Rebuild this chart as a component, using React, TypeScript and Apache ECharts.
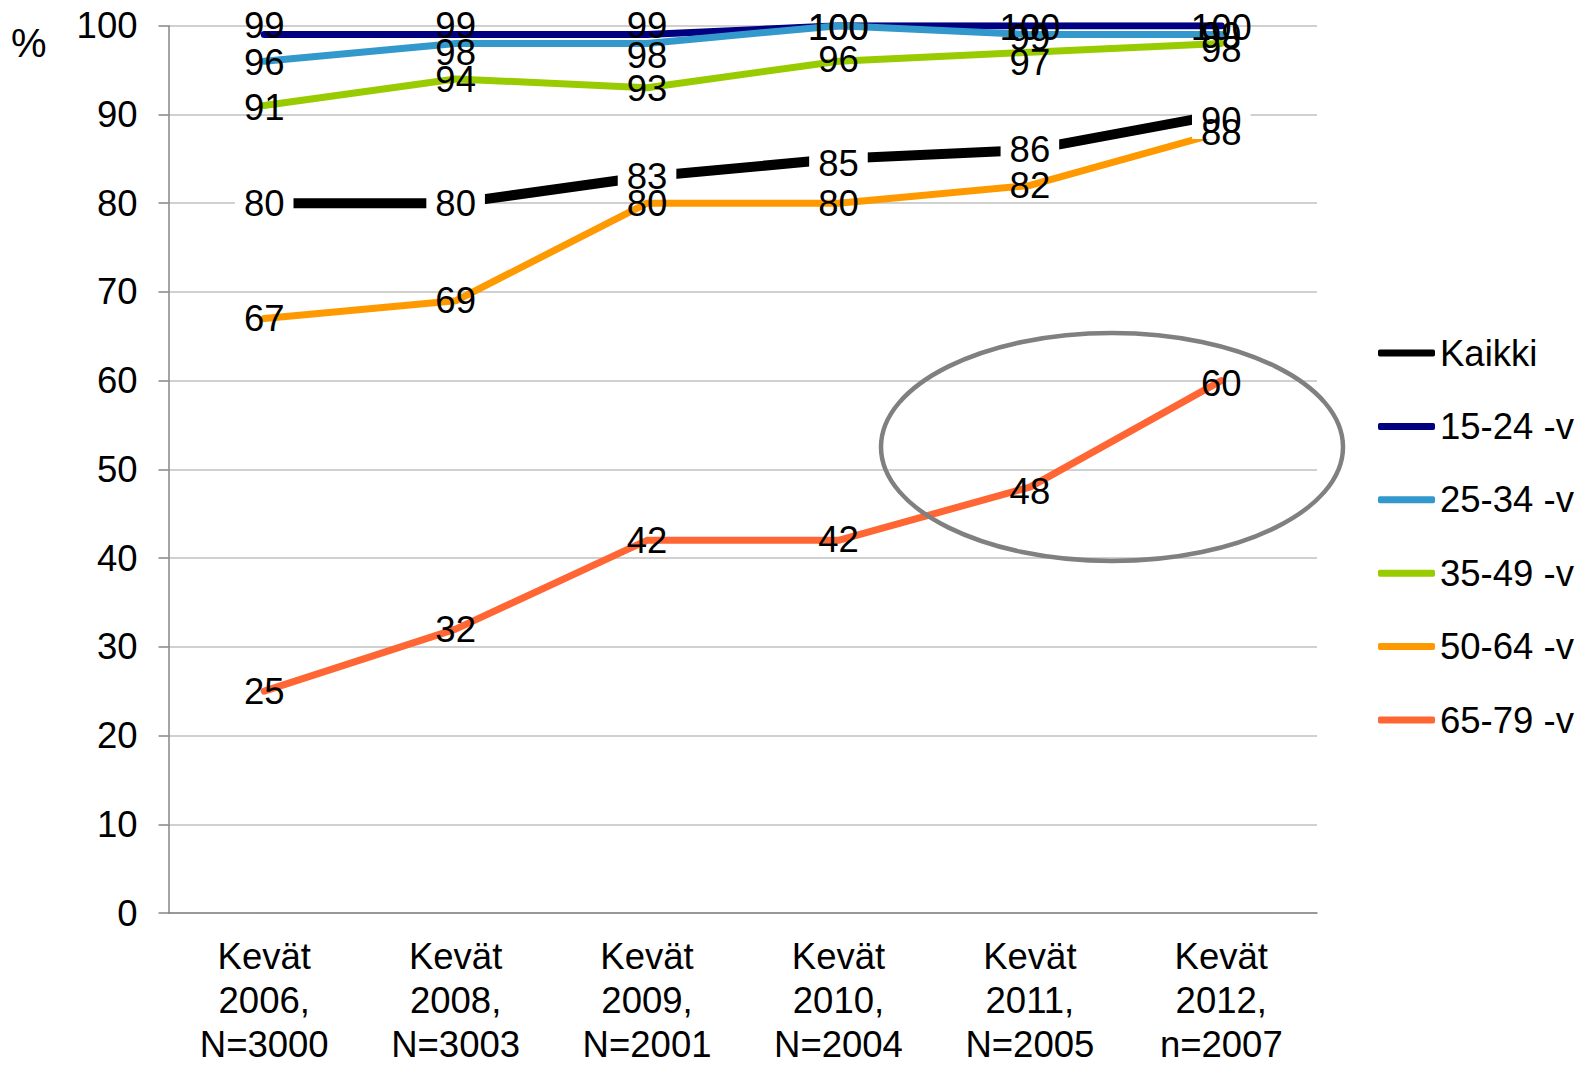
import React, { useEffect, useRef } from "react";
import * as echarts from "echarts";

// Survey rounds shown along the x axis
const CATEGORIES = [
  "Kevät\n2006,\nN=3000",
  "Kevät\n2008,\nN=3003",
  "Kevät\n2009,\nN=2001",
  "Kevät\n2010,\nN=2004",
  "Kevät\n2011,\nN=2005",
  "Kevät\n2012,\nn=2007",
];

// Share (%) per age group
const KAIKKI = [80, 80, 83, 85, 86, 90];
const AGE_15_24 = [99, 99, 99, 100, 100, 100];
const AGE_25_34 = [96, 98, 98, 100, 99, 99];
const AGE_35_49 = [91, 94, 93, 96, 97, 98];
const AGE_50_64 = [67, 69, 80, 80, 82, 88];
const AGE_65_79 = [25, 32, 42, 42, 48, 60];

const SERIES_NAMES = ["Kaikki", "15-24 -v", "25-34 -v", "35-49 -v", "50-64 -v", "65-79 -v"];
const SERIES_VALUES = [KAIKKI, AGE_15_24, AGE_25_34, AGE_35_49, AGE_50_64, AGE_65_79];

// Y axis scale
const Y_MIN = 0;
const Y_MAX = 100;
const Y_STEP = 10;

// Presentation: colours, widths and vertical label nudges (px) per series
const COLORS = ["#000000", "#000080", "#3399CC", "#99CC00", "#FF9900", "#FF6633"];
const WIDTHS = [10, 7, 7, 7, 7, 7];
const LABEL_DY = [
  [0, 0, 0, 5, 0, 6],
  [-9, -9, -9, 2, 2, 2],
  [1, 9, 12, 2, 3, 1],
  [2, 1, 1, -2, 10, 6],
  [0, 0, 0, 0, 0, 0],
  [0, 0, 0, -1, 4, 3],
];

const FONT = "'Liberation Sans', Arial, sans-serif";
const FONT_SIZE = 36.5;

export default function App() {
  const ref = useRef<HTMLDivElement>(null);

  useEffect(() => {
    if (!ref.current) return;
    const chart = echarts.init(ref.current, undefined, { renderer: "svg" });

    const lineSeries = SERIES_NAMES.map((name, s) => ({
      name,
      type: "line",
      data: SERIES_VALUES[s],
      z: 2,
      symbol: "none",
      showSymbol: false,
      silent: true,
      color: COLORS[s],
      lineStyle: { color: COLORS[s], width: WIDTHS[s], cap: "round", join: "round" },
      emphasis: { disabled: true },
    }));

    // Value labels drawn above every line
    const labelSeries = SERIES_NAMES.map((name, s) => ({
      name: name + " (arvot)",
      type: "line",
      z: 3,
      silent: true,
      symbol: "circle",
      symbolSize: 1,
      itemStyle: { color: "rgba(0,0,0,0)" },
      lineStyle: { width: 0, opacity: 0 },
      emphasis: { disabled: true },
      data: SERIES_VALUES[s].map((v, i) => ({
        value: v,
        label: { offset: [0, LABEL_DY[s][i]] },
      })),
      label: {
        show: true,
        position: "inside",
        color: "#000",
        fontFamily: FONT,
        fontSize: FONT_SIZE,
        ...(s === 0 ? { backgroundColor: "#ffffff", padding: [0, 9] } : {}),
      },
    }));

    chart.setOption({
      animation: false,
      backgroundColor: "#ffffff",
      textStyle: { fontFamily: FONT },
      grid: {
        left: 168.5,
        right: 268,
        top: 25.7,
        bottom: 153,
        containLabel: false,
        outerBoundsMode: "none",
      },
      legend: {
        orient: "vertical",
        left: 1378,
        top: 333,
        padding: 0,
        itemWidth: 57,
        itemHeight: 7,
        itemGap: 33.4,
        icon: "roundRect",
        data: SERIES_NAMES,
        selectedMode: false,
        textStyle: { fontFamily: FONT, fontSize: FONT_SIZE, color: "#000", lineHeight: 40 },
      },
      xAxis: {
        type: "category",
        data: CATEGORIES,
        boundaryGap: true,
        axisLine: { lineStyle: { color: "#868686", width: 1.5 } },
        axisTick: { alignWithLabel: true, length: 8, lineStyle: { color: "#868686", width: 1.5 } },
        axisLabel: {
          color: "#000",
          fontFamily: FONT,
          fontSize: FONT_SIZE,
          lineHeight: 44,
          margin: 21,
          interval: 0,
        },
      },
      yAxis: {
        type: "value",
        min: Y_MIN,
        max: Y_MAX,
        interval: Y_STEP,
        axisLine: { show: true, lineStyle: { color: "#868686", width: 1.5 } },
        axisTick: { show: true, length: 10, lineStyle: { color: "#868686", width: 1.5 } },
        axisLabel: { color: "#000", fontFamily: FONT, fontSize: FONT_SIZE, margin: 31 },
        splitLine: { lineStyle: { color: "#c0c0c0", width: 1.5 } },
      },
      graphic: [
        {
          type: "text",
          x: 11,
          y: 43,
          style: {
            text: "%",
            fontFamily: FONT,
            fontSize: 40,
            fill: "#000",
            verticalAlign: "middle",
          },
        },
        {
          type: "ellipse",
          z: 10,
          shape: { cx: 1112, cy: 447, rx: 231, ry: 114 },
          style: { fill: "none", stroke: "#808080", lineWidth: 4.5 },
          silent: true,
        },
      ],
      series: [...lineSeries, ...labelSeries],
    });

    return () => chart.dispose();
  }, []);

  return (
    <div
      ref={ref}
      style={{ position: "fixed", left: 0, top: 0, width: 1585, height: 1066 }}
    />
  );
}
